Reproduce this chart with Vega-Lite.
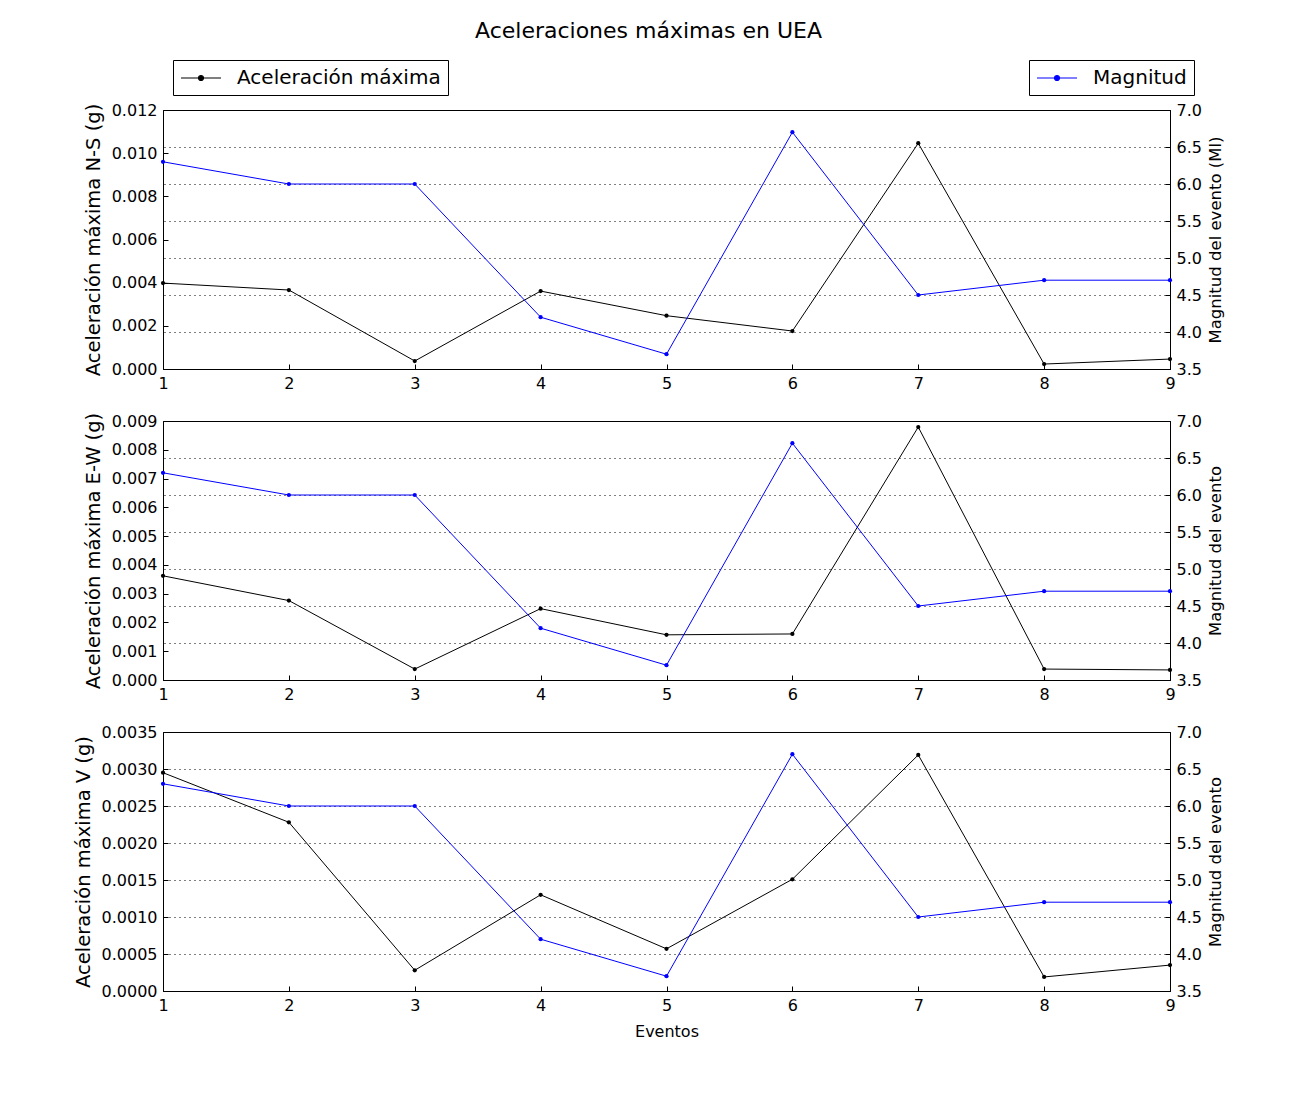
{
  "$schema": "https://vega.github.io/schema/vega-lite/v6.json",
  "background": "white",
  "autosize": {"type": "pad"},
  "padding": {"left": 72, "top": 19, "right": 5, "bottom": 5},
  "title": {"text": "Aceleraciones máximas en UEA", "fontSize": 22, "font": "DejaVu Sans", "fontWeight": "normal", "color": "black", "anchor": "middle", "offset": 17},
  "datasets": {
    "d": [
      {"evento": 1, "ns": 0.00398, "ew": 0.00362, "v": 0.00295, "mag": 6.3},
      {"evento": 2, "ns": 0.00366, "ew": 0.00276, "v": 0.00228, "mag": 6.0},
      {"evento": 3, "ns": 0.00037, "ew": 0.00038, "v": 0.00028, "mag": 6.0},
      {"evento": 4, "ns": 0.00361, "ew": 0.00248, "v": 0.00130, "mag": 4.2},
      {"evento": 5, "ns": 0.00247, "ew": 0.00157, "v": 0.00057, "mag": 3.7},
      {"evento": 6, "ns": 0.00176, "ew": 0.00160, "v": 0.00151, "mag": 6.7},
      {"evento": 7, "ns": 0.01046, "ew": 0.00879, "v": 0.00319, "mag": 4.5},
      {"evento": 8, "ns": 0.00023, "ew": 0.00038, "v": 0.00019, "mag": 4.7},
      {"evento": 9, "ns": 0.00046, "ew": 0.00035, "v": 0.00035, "mag": 4.7}
    ]
  },
  "spacing": 52,
  "bounds": "flush",
  "config": {
    "font": "DejaVu Sans",
    "view": {"stroke": "black", "strokeWidth": 1},
    "axis": {
      "domainColor": "black", "tickColor": "black", "labelColor": "black", "titleColor": "black",
      "labelFont": "DejaVu Sans", "titleFont": "DejaVu Sans", "labelFontSize": 16,
      "titleFontWeight": "normal", "tickSize": -5, "labelPadding": 11, "grid": false,
      "labelOverlap": false, "labelFlush": false, "labelBound": false
    },
    "legend": {
      "labelFont": "DejaVu Sans", "labelFontSize": 20, "labelColor": "black", "labelLimit": 400,
      "strokeColor": "black", "fillColor": "white", "padding": 7, "cornerRadius": 0,
      "symbolStrokeWidth": 1.2, "symbolSize": 400, "symbolOffset": 10, "labelOffset": 25
    }
  },
  "vconcat": [
    {
      "width": 1007, "height": 259,
      "data": {"name": "d"},
      "layer": [
        {
          "layer": [
            {
              "mark": {"type": "line", "strokeWidth": 1},
              "encoding": {
                "x": {"field": "evento", "type": "quantitative", "scale": {"domain": [1, 9], "nice": false}, "axis": {"values": [1,2,3,4,5,6,7,8,9], "tickCount": 20, "title": null, "format": "d"}},
                "y": {"field": "ns", "type": "quantitative", "scale": {"domain": [0, 0.012], "nice": false}, "axis": {"orient": "left", "values": [0,0.002,0.004,0.006,0.008,0.010,0.012], "tickCount": 20, "format": ".3f", "title": "Aceleración máxima N-S (g)", "titleFontSize": 19.5, "titlePadding": 8}},
                "color": {"datum": "Aceleración máxima", "scale": {"range": ["black"]}, "legend": {"title": null, "orient": "none", "legendX": 10, "legendY": -50, "symbolType": "M-2,0H2M-0.25,0A0.25,0.25 0 1,0 0.25,0A0.25,0.25 0 1,0 -0.25,0", "symbolFillColor": "black"}}
              }
            },
            {
              "mark": {"type": "point", "filled": true, "size": 18, "color": "black", "opacity": 1},
              "encoding": {
                "x": {"field": "evento", "type": "quantitative"},
                "y": {"field": "ns", "type": "quantitative"}
              }
            }
          ]
        },
        {
          "layer": [
            {
              "mark": {"type": "line", "strokeWidth": 1},
              "encoding": {
                "x": {"field": "evento", "type": "quantitative"},
                "y": {"field": "mag", "type": "quantitative", "scale": {"domain": [3.5, 7], "nice": false}, "axis": {"orient": "right", "values": [3.5,4,4.5,5,5.5,6,6.5,7], "tickCount": 20, "format": ".1f", "title": "Magnitud del evento (Ml)", "titleFontSize": 16.5, "titleAngle": 270, "titleBaseline": "top", "titlePadding": 6, "grid": true, "gridColor": "black", "gridDash": [1, 4], "gridWidth": 1}},
                "stroke": {"datum": "Magnitud", "scale": {"range": ["blue"]}, "legend": {"title": null, "orient": "none", "legendX": 866, "legendY": -50, "symbolType": "M-2,0H2M-0.25,0A0.25,0.25 0 1,0 0.25,0A0.25,0.25 0 1,0 -0.25,0", "symbolFillColor": "blue"}}
              }
            },
            {
              "mark": {"type": "point", "filled": true, "size": 18, "color": "blue", "opacity": 1},
              "encoding": {
                "x": {"field": "evento", "type": "quantitative"},
                "y": {"field": "mag", "type": "quantitative"}
              }
            }
          ]
        }
      ],
      "resolve": {"scale": {"y": "independent"}, "axis": {"y": "independent"}}
    },
    {
      "width": 1007, "height": 259,
      "data": {"name": "d"},
      "layer": [
        {
          "layer": [
            {
              "mark": {"type": "line", "strokeWidth": 1, "color": "black"},
              "encoding": {
                "x": {"field": "evento", "type": "quantitative", "scale": {"domain": [1, 9], "nice": false}, "axis": {"values": [1,2,3,4,5,6,7,8,9], "tickCount": 20, "title": null, "format": "d"}},
                "y": {"field": "ew", "type": "quantitative", "scale": {"domain": [0, 0.009], "nice": false}, "axis": {"orient": "left", "values": [0,0.001,0.002,0.003,0.004,0.005,0.006,0.007,0.008,0.009], "tickCount": 20, "format": ".3f", "title": "Aceleración máxima E-W (g)", "titleFontSize": 19.5, "titlePadding": 8}}
              }
            },
            {
              "mark": {"type": "point", "filled": true, "size": 18, "color": "black", "opacity": 1},
              "encoding": {
                "x": {"field": "evento", "type": "quantitative"},
                "y": {"field": "ew", "type": "quantitative"}
              }
            }
          ]
        },
        {
          "layer": [
            {
              "mark": {"type": "line", "strokeWidth": 1, "color": "blue"},
              "encoding": {
                "x": {"field": "evento", "type": "quantitative"},
                "y": {"field": "mag", "type": "quantitative", "scale": {"domain": [3.5, 7], "nice": false}, "axis": {"orient": "right", "values": [3.5,4,4.5,5,5.5,6,6.5,7], "tickCount": 20, "format": ".1f", "title": "Magnitud del evento", "titleFontSize": 16.5, "titleAngle": 270, "titleBaseline": "top", "titlePadding": 6, "grid": true, "gridColor": "black", "gridDash": [1, 4], "gridWidth": 1}}
              }
            },
            {
              "mark": {"type": "point", "filled": true, "size": 18, "color": "blue", "opacity": 1},
              "encoding": {
                "x": {"field": "evento", "type": "quantitative"},
                "y": {"field": "mag", "type": "quantitative"}
              }
            }
          ]
        }
      ],
      "resolve": {"scale": {"y": "independent"}, "axis": {"y": "independent"}}
    },
    {
      "width": 1007, "height": 259,
      "data": {"name": "d"},
      "layer": [
        {
          "layer": [
            {
              "mark": {"type": "line", "strokeWidth": 1, "color": "black"},
              "encoding": {
                "x": {"field": "evento", "type": "quantitative", "scale": {"domain": [1, 9], "nice": false}, "axis": {"values": [1,2,3,4,5,6,7,8,9], "tickCount": 20, "title": "Eventos", "titleFontSize": 16, "titlePadding": 10, "format": "d"}},
                "y": {"field": "v", "type": "quantitative", "scale": {"domain": [0, 0.0035], "nice": false}, "axis": {"orient": "left", "values": [0,0.0005,0.001,0.0015,0.002,0.0025,0.003,0.0035], "tickCount": 20, "format": ".4f", "title": "Aceleración máxima V (g)", "titleFontSize": 19.5, "titlePadding": 8}}
              }
            },
            {
              "mark": {"type": "point", "filled": true, "size": 18, "color": "black", "opacity": 1},
              "encoding": {
                "x": {"field": "evento", "type": "quantitative"},
                "y": {"field": "v", "type": "quantitative"}
              }
            }
          ]
        },
        {
          "layer": [
            {
              "mark": {"type": "line", "strokeWidth": 1, "color": "blue"},
              "encoding": {
                "x": {"field": "evento", "type": "quantitative"},
                "y": {"field": "mag", "type": "quantitative", "scale": {"domain": [3.5, 7], "nice": false}, "axis": {"orient": "right", "values": [3.5,4,4.5,5,5.5,6,6.5,7], "tickCount": 20, "format": ".1f", "title": "Magnitud del evento", "titleFontSize": 16.5, "titleAngle": 270, "titleBaseline": "top", "titlePadding": 6, "grid": true, "gridColor": "black", "gridDash": [1, 4], "gridWidth": 1}}
              }
            },
            {
              "mark": {"type": "point", "filled": true, "size": 18, "color": "blue", "opacity": 1},
              "encoding": {
                "x": {"field": "evento", "type": "quantitative"},
                "y": {"field": "mag", "type": "quantitative"}
              }
            }
          ]
        }
      ],
      "resolve": {"scale": {"y": "independent"}, "axis": {"y": "independent"}}
    }
  ]
}
